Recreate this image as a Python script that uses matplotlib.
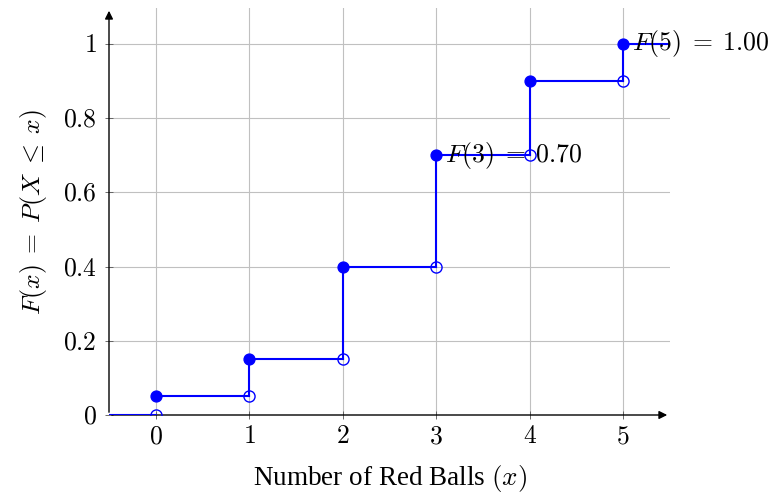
import numpy as np
import matplotlib.pyplot as plt

plt.rcParams['mathtext.fontset'] = 'cm'
plt.rcParams['font.family'] = ['Liberation Serif', 'DejaVu Serif']

# 数据
x_vals = [0, 1, 2, 3, 4, 5]
cdf = [0.05, 0.15, 0.40, 0.70, 0.90, 1.00]
x_ticks = [0, 1, 2, 3, 4, 5]
y_ticks = [0, 0.2, 0.4, 0.6, 0.8, 1.0]
y_ticklabels = ['0', '0.2', '0.4', '0.6', '0.8', '1']
labels = {3: r'$F(3)\;=\;0.70$', 5: r'$F(5)\;=\;1.00$'}

xmin, xmax = -0.5, 5.5
ymin, ymax = 0, 1.097
blue = '#0000ff'
fs = 18.5

fig = plt.figure(figsize=(7.84, 4.93), dpi=100)
ax = fig.add_axes([109 / 784, 78 / 493, 561 / 784, 407 / 493])
ax.set_xlim(xmin, xmax)
ax.set_ylim(ymin, ymax)

# 网格
for xt in x_ticks:
    ax.plot([xt, xt], [ymin, 1.097], color='#c0c0c0', lw=0.8, zorder=0)
for yt in y_ticks[1:]:
    ax.plot([xmin, xmax], [yt, yt], color='#c0c0c0', lw=0.8, zorder=0)

# 阶梯线
ax.plot([xmin, 0], [0, 0], color=blue, lw=1.5, zorder=3)
for i, x in enumerate(x_vals):
    x_end = x_vals[i + 1] if i + 1 < len(x_vals) else xmax
    ax.plot([x, x_end], [cdf[i], cdf[i]], color=blue, lw=1.5, zorder=3)
    if i > 0:
        ax.plot([x, x], [cdf[i - 1], cdf[i]], color=blue, lw=1.5, zorder=3)

prev = [0] + cdf[:-1]
ax.plot(x_vals, cdf, 'o', color=blue, ms=7.8, zorder=4)
ax.plot(x_vals, prev, 'o', mfc='none', mec=blue, mew=1.0, ms=8, zorder=4)

for k, txt in labels.items():
    ax.annotate(txt, (k, cdf[k]), xytext=(6, 0), textcoords='offset points',
                ha='left', va='center', fontsize=fs, zorder=5)

# 坐标轴
for s in ax.spines.values():
    s.set_visible(False)
ax.annotate('', xy=(xmax, 0), xytext=(xmin, 0),
            arrowprops=dict(arrowstyle='-|>', color='black', lw=1.0, mutation_scale=12),
            zorder=2)
ax.annotate('', xy=(xmin, ymax), xytext=(xmin, 0),
            arrowprops=dict(arrowstyle='-|>', color='black', lw=1.0, mutation_scale=12),
            zorder=2)

ax.set_xticks(x_ticks)
ax.set_xticklabels(['$%d$' % v for v in x_ticks], fontsize=fs)
ax.set_yticks(y_ticks)
ax.set_yticklabels(['$%s$' % v for v in y_ticklabels], fontsize=fs)
ax.tick_params(axis='both', direction='inout', length=6, width=0.6, color='#555555')
ax.tick_params(axis='x', pad=5)
ax.tick_params(axis='y', pad=6)

ax.set_xlabel(r'Number of Red Balls $(x)$', fontsize=fs + 1, labelpad=11)
ax.set_ylabel(r'$F(x)\;=\;P(X\;\leq\;x)$', fontsize=fs, labelpad=10)

plt.savefig('out.png', dpi=100)
